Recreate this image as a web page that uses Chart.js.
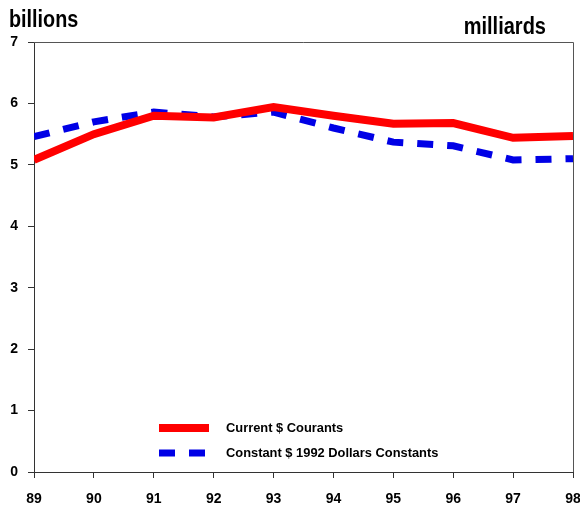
<!DOCTYPE html>
<html><head><meta charset="utf-8">
<script src="https://cdn.jsdelivr.net/npm/chart.js@4/dist/chart.umd.min.js"></script>
<style>html,body{margin:0;padding:0;background:#fff}#wrap{width:580px;height:512px}</style>
</head><body><div id="wrap"><canvas id="c" width="580" height="512"></canvas></div>
<script>
const years = [89, 90, 91, 92, 93, 94, 95, 96, 97, 98];
const currentDollars = [5.08, 5.50, 5.80, 5.77, 5.94, 5.80, 5.67, 5.68, 5.44, 5.47];
const constantDollars = [5.46, 5.70, 5.86, 5.78, 5.86, 5.60, 5.37, 5.31, 5.08, 5.10];
const seriesLabels = ["Current $ Courants", "Constant $ 1992 Dollars Constants"];
const yTicks = [0, 1, 2, 3, 4, 5, 6, 7];
const unitLeft = "billions", unitRight = "milliards";

const FONT = '"Liberation Sans Narrow", "Liberation Sans", Arial, sans-serif';

function narrowText(ctx, text, x, y, sx, align) {
  ctx.save();
  ctx.translate(x, y);
  ctx.scale(sx, 1);
  ctx.textAlign = align;
  ctx.fillText(text, 0, 0);
  ctx.restore();
}

const extras = {
  id: 'extras',
  afterDraw(chart) {
    const ctx = chart.ctx, a = chart.chartArea;
    ctx.save();
    ctx.strokeStyle = '#555';
    ctx.lineWidth = 1;
    ctx.beginPath();
    ctx.moveTo(a.left, a.top + 0.5); ctx.lineTo(a.right + 0.5, a.top + 0.5); ctx.lineTo(a.right + 0.5, a.bottom);
    ctx.stroke();
    ctx.fillStyle = '#000';
    ctx.font = 'bold 23px ' + FONT;
    ctx.textBaseline = 'alphabetic';
    narrowText(ctx, unitLeft, 9, 27, 0.86, 'left');
    narrowText(ctx, unitRight, 546, 34, 0.87, 'right');
    // legend
    const ds = chart.data.datasets;
    const lx = 159, ly = [428, 453];
    ctx.font = 'bold 13px ' + FONT;
    ctx.textBaseline = 'middle';
    ds.forEach((d, i) => {
      ctx.strokeStyle = d.borderColor;
      ctx.lineWidth = d.borderWidth;
      ctx.setLineDash(d.borderDash || []);
      ctx.lineCap = 'butt';
      ctx.beginPath();
      ctx.moveTo(lx, ly[i]); ctx.lineTo(lx + 50, ly[i]);
      ctx.stroke();
      ctx.setLineDash([]);
      ctx.fillStyle = '#000';
      narrowText(ctx, d.label, lx + 67, ly[i], 0.99, 'left');
    });
    ctx.restore();
  }
};

new Chart(document.getElementById('c'), {
  type: 'line',
  data: {
    datasets: [
      { label: seriesLabels[0], data: years.map((y, i) => ({x: y, y: currentDollars[i]})),
        borderColor: '#ff0000', borderWidth: 8, pointRadius: 0, tension: 0, fill: false },
      { label: seriesLabels[1], data: years.map((y, i) => ({x: y, y: constantDollars[i]})),
        borderColor: '#0000e6', borderWidth: 7, borderDash: [16, 14], pointRadius: 0, tension: 0, fill: false }
    ]
  },
  options: {
    responsive: false, animation: false,
    layout: { padding: { top: 42, right: 7, left: 0, bottom: 0 } },
    plugins: { legend: { display: false }, tooltip: { enabled: false } },
    scales: {
      x: { type: 'linear', min: 89, max: 98,
        afterFit: s => { s.height = 40; s.paddingLeft = 0; s.paddingRight = 0; },
        afterBuildTicks: s => { s.ticks = years.map(v => ({value: v})); },
        grid: { drawOnChartArea: false, tickLength: 6, color: '#333' },
        border: { color: '#333' },
        ticks: { color: '#000', padding: 13, maxRotation: 0, font: { family: FONT, size: 14, weight: 'bold' } } },
      y: { min: 0, max: 7,
        afterFit: s => { s.width = 34; s.paddingTop = 0; s.paddingBottom = 0; },
        afterBuildTicks: s => { s.ticks = yTicks.map(v => ({value: v})); },
        grid: { drawOnChartArea: false, tickLength: 6, color: '#333' },
        border: { color: '#333' },
        ticks: { color: '#000', padding: 10, font: { family: FONT, size: 14, weight: 'bold' } } }
    }
  },
  plugins: [extras]
});
</script></body></html>
